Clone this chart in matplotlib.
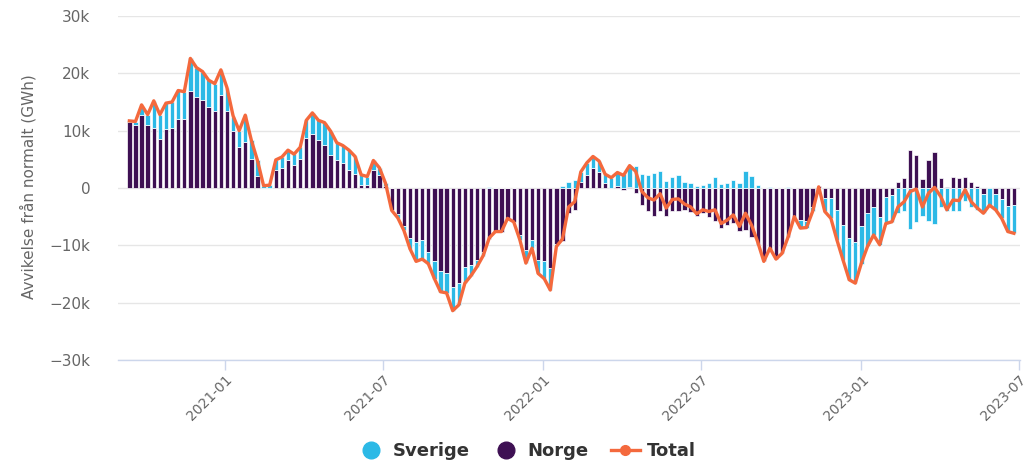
import numpy as np
import pandas as pd
import matplotlib
matplotlib.use('Agg')
import matplotlib.pyplot as plt
import matplotlib.dates as mdates
from matplotlib.lines import Line2D
from matplotlib.ticker import FuncFormatter

# weekly deviation from normal (GWh)
weeks = pd.date_range('2020-09-13', periods=146, freq='7D')

norge = [
    11500, 10900, 12700, 10900, 10500, 8600, 10300, 10500, 12000, 12000,
    17000, 15800, 15400, 14100, 13500, 16200, 13400, 10000, 7100, 8000,
    5100, 2100, 0, 0, 3100, 3400, 4900, 4000, 5100, 8800,
    9500, 8300, 7500, 5700, 4900, 4400, 3100, 2500, 500, 500,
    3100, 2300, 400, -3900, -4600, -6600, -8800, -9400, -9100, -11100,
    -12800, -14400, -14900, -17200, -16600, -13700, -13400, -12600, -11200, -8900,
    -7600, -7600, -5300, -5900, -8200, -10800, -9100, -12600, -12800, -14000,
    -9700, -9200, -4400, -3800, 1000, 2300, 3400, 2800, 800, 0,
    400, -300, 200, -900, -3000, -4000, -4800, -4000, -4800, -4000,
    -4100, -3800, -4200, -4800, -4300, -5000, -5700, -6900, -6500, -6100,
    -7500, -7400, -8600, -10000, -12800, -10700, -12400, -11400, -8600, -5000,
    -5600, -5800, -3300, 300, -1800, -1800, -3800, -6500, -8800, -9400,
    -6700, -4400, -3300, -5000, -1500, -1200, 1100, 1700, 6600, 5800,
    1500, 4800, 6300, 1800, 200, 2000, 1800, 2000, 1000, 300,
    -1000, 0, -1000, -2000, -3200, -3000,
]

sverige = [
    200, 600, 1500, 1800, 4600, 4200, 4500, 4500, 5000, 4800,
    5600, 5200, 4900, 4700, 4600, 4400, 4100, 2400, 2800, 4700,
    3200, 2700, 400, 500, 1800, 2000, 1800, 1900, 2000, 3000,
    3600, 3500, 3900, 4200, 3000, 3000, 3500, 3000, 1800, 1500,
    1700, 1200, 400, 0, -600, -800, -1800, -3400, -3300, -2100,
    -3000, -3700, -3400, -4200, -3800, -2900, -1900, -1100, -600, 200,
    0, 0, 0, 0, -800, -2300, -1400, -2300, -3000, -3800,
    -500, 300, 1100, 1400, 1800, 2000, 2000, 1900, 1600, 1800,
    2300, 2500, 3700, 3800, 2400, 2300, 2700, 3000, 1300, 2000,
    2200, 1000, 900, 300, 500, 900, 1900, 700, 900, 1400,
    800, 3000, 2100, 600, 0, 200, 0, 0, 100, 0,
    -1400, -1100, -800, -100, -2300, -3500, -5300, -6100, -7300, -7200,
    -6500, -5800, -4900, -4900, -4700, -4700, -4400, -4100, -7200, -6000,
    -4800, -5700, -6200, -3300, -4000, -4100, -4000, -2300, -3400, -3800,
    -3400, -3000, -2800, -3300, -4400, -4900,
]

total = [
    11700, 11600, 14500, 12800, 15200, 12800, 14800, 15000, 17000, 16800,
    22600, 21000, 20300, 18800, 18200, 20600, 17500, 12600, 10000, 12700,
    8300, 4800, 400, 500, 4900, 5400, 6600, 5900, 7100, 11800,
    13100, 11800, 11400, 9900, 7900, 7400, 6600, 5500, 2300, 2000,
    4800, 3500, 800, -3900, -5200, -7400, -10600, -12800, -12400, -13200,
    -15800, -18100, -18300, -21400, -20400, -16600, -15300, -13700, -11800, -8700,
    -7600, -7600, -5300, -5900, -9000, -13100, -10500, -14900, -15800, -17800,
    -10200, -8900, -3300, -2400, 2800, 4400, 5500, 4700, 2400, 1800,
    2700, 2200, 3900, 2900, -600, -1700, -2100, -1000, -3500, -2000,
    -1900, -2800, -3300, -4500, -3800, -4100, -3800, -6200, -5600, -4700,
    -6700, -4400, -6500, -9400, -12800, -10500, -12400, -11400, -8500, -5000,
    -7000, -6900, -4100, 200, -4100, -5300, -9100, -12600, -16000, -16600,
    -13100, -10200, -8200, -9900, -6200, -5900, -3300, -2400, -600, -200,
    -3300, -900, 100, -1500, -3800, -2100, -2200, -300, -2400, -3500,
    -4400, -3000, -3800, -5300, -7600, -7900,
]

blue = '#2cb9e6'
purple = '#3e1053'
orange = '#f4693d'
grey_text = '#666666'

norge = np.array(norge)
sverige = np.array(sverige)
# sverige sits on top of norge when both have the same sign, otherwise from zero
sv_bottom = np.where(np.sign(sverige) == np.sign(norge), norge, 0)

fig = plt.figure(figsize=(10.3, 4.62), dpi=100)
ax = fig.add_axes([0.1146, 0.2208, 0.8757, 0.7446])

bar_w = 5.0
ax.bar(weeks, norge, width=bar_w, color=purple, edgecolor='white',
       linewidth=0.5, zorder=2)
ax.bar(weeks, sverige, width=bar_w, bottom=sv_bottom, color=blue,
       edgecolor='white', linewidth=0.5, zorder=2)
ax.plot(weeks, total, color=orange, linewidth=2.4, zorder=3,
        solid_joinstyle='round')

ax.set_ylim(-30000, 30000)
ax.set_yticks(np.arange(-30000, 30001, 10000))
ax.yaxis.set_major_formatter(FuncFormatter(
    lambda v, p: '0' if v == 0 else ('%dk' % (v / 1000)).replace('-', '\u2212')))
ax.grid(axis='y', color='#e6e6e6', linewidth=1)
ax.set_axisbelow(True)

ax.set_xlim(mdates.date2num(pd.Timestamp('2020-08-31')),
            mdates.date2num(pd.Timestamp('2023-07-02')))
ax.set_xticks([pd.Timestamp(d) for d in
               ['2021-01-01', '2021-07-01', '2022-01-01',
                '2022-07-01', '2023-01-01', '2023-07-01']])
ax.xaxis.set_major_formatter(mdates.DateFormatter('%Y-%m'))

for s in ['top', 'right', 'left']:
    ax.spines[s].set_visible(False)
ax.spines['bottom'].set_color('#ccd6eb')
ax.spines['bottom'].set_linewidth(1)

ax.tick_params(axis='y', length=0, pad=20, labelsize=11, labelcolor=grey_text)
ax.tick_params(axis='x', length=7, width=1, color='#ccd6eb', pad=2,
               labelsize=10, labelcolor=grey_text)
for lab in ax.get_xticklabels():
    lab.set_rotation(45)
    lab.set_ha('right')
    lab.set_rotation_mode('anchor')

fig.text(0.027, 0.597, 'Avvikelse från normalt (GWh)', rotation=90,
         ha='center', va='center', fontsize=11, color=grey_text)

handles = [
    Line2D([], [], linestyle='none', marker='o', markersize=12,
           color=blue, label='Sverige'),
    Line2D([], [], linestyle='none', marker='o', markersize=12,
           color=purple, label='Norge'),
    Line2D([], [], color=orange, linewidth=2.4, marker='o', markersize=7,
           label='Total'),
]
fig.legend(handles=handles, loc='center', bbox_to_anchor=(0.511, 0.024),
           ncol=3, frameon=False, handlelength=1.6, handletextpad=0.4,
           columnspacing=1.2, prop={'weight': 'bold', 'size': 13},
           labelcolor='#333333')

fig.savefig('out.png', dpi=100)
